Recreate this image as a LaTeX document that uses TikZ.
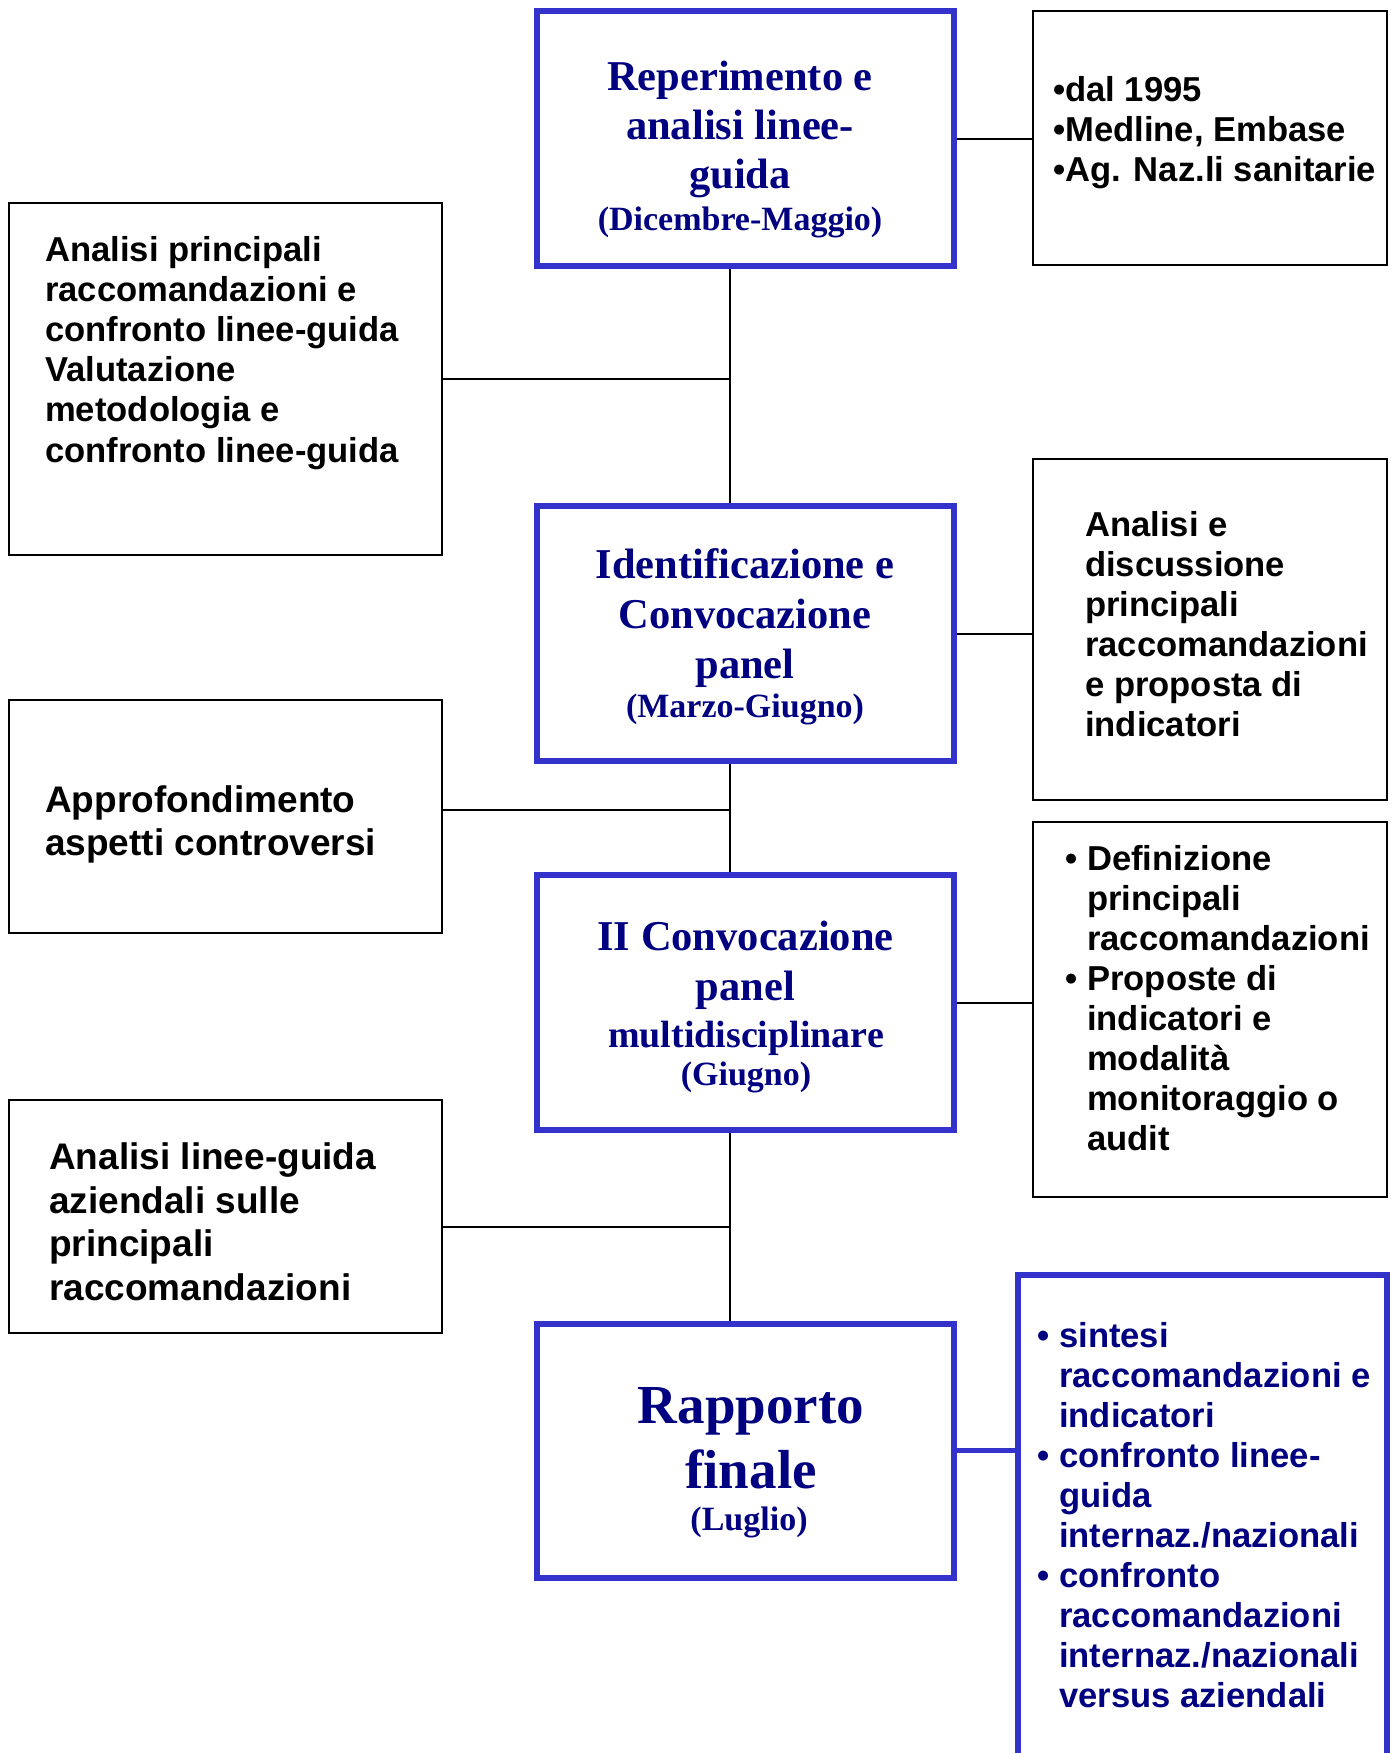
\documentclass[tikz,border=0pt]{standalone}
\usepackage{fontspec}
\setmainfont{Liberation Serif}
\setsansfont{Liberation Sans}
\definecolor{boxblue}{RGB}{51,51,204}
\definecolor{navytext}{RGB}{0,0,128}
\begin{document}
\begin{tikzpicture}[x=1pt,y=-1pt,
  stagebox/.style={draw=boxblue, line width=6pt, minimum width=417pt, minimum height=255pt, inner sep=0pt},
  notebox/.style={draw=black, line width=2pt, inner sep=0pt},
  bluenote/.style={draw=boxblue, line width=6pt, inner sep=0pt},
  conn/.style={draw=black, line width=2pt},
  blueconn/.style={draw=boxblue, line width=5pt},
  sanstext/.style={align=left, inner sep=0pt, anchor=base west, text=black},
  serift/.style={align=center, inner sep=0pt, anchor=base, text=navytext},
]
\useasboundingbox (0,0) rectangle (1396,1753);
\clip (0,0) rectangle (1396,1753);
\fill[white] (0,0) rectangle (1396,1753);

% central stage boxes
\node[stagebox] (s1) at (745.5,138.5) {};
\node[stagebox] (s2) at (745.5,633.5) {};
\node[stagebox] (s3) at (745.5,1002.5) {};
\node[stagebox, minimum height=254pt] (s4) at (745.5,1450.5) {};

% left boxes
\node[notebox, minimum width=433pt, minimum height=352pt] (l1) at (225.5,379) {};
\node[notebox, minimum width=433pt, minimum height=233pt] (l2) at (225.5,816.5) {};
\node[notebox, minimum width=433pt, minimum height=233pt] (l3) at (225.5,1216.5) {};

% right boxes
\node[notebox, minimum width=354pt, minimum height=254pt] (r1) at (1210,138) {};
\node[notebox, minimum width=354pt, minimum height=341pt] (r2) at (1210,629.5) {};
\node[notebox, minimum width=354pt, minimum height=375pt] (r3) at (1210,1009.5) {};
\node[bluenote, minimum width=369pt, minimum height=525pt] (r4) at (1202.5,1537.5) {};

% connectors
\coordinate (vx) at (730,0);
\draw[conn] (s1.south -| vx) -- (s2.north -| vx);
\draw[conn] (s2.south -| vx) -- (s3.north -| vx);
\draw[conn] (s3.south -| vx) -- (s4.north -| vx);
\coordinate (j1) at (730,379);
\coordinate (j2) at (730,810);
\coordinate (j3) at (730,1227);
\draw[conn] (j1 -| l1.east) -- (j1);
\draw[conn] (j2 -| l2.east) -- (j2);
\draw[conn] (j3 -| l3.east) -- (j3);
\draw[conn] (s1.east) -- (s1.east -| r1.west);
\draw[conn] (s2.east) -- (s2.east -| r2.west);
\draw[conn] (s3.east) -- (s3.east -| r3.west);
\draw[blueconn] (s4.east) -- (s4.east -| r4.west);

% central texts (anchor = baseline of last line)
\node[serift, font={\rmfamily\bfseries\fontsize{42.5}{49}\selectfont}] (s1a) at (740,188) {Reperimento e\\analisi linee-\\guida};
\node[serift, font={\rmfamily\bfseries\fontsize{34}{40}\selectfont}] (s1b) at (740,230) {(Dicembre-Maggio)};
\node[serift, font={\rmfamily\bfseries\fontsize{42.5}{50}\selectfont}] (s2a) at (745,678) {Identificazione e\\Convocazione\\panel};
\node[serift, font={\rmfamily\bfseries\fontsize{34}{40}\selectfont}] (s2b) at (745,717) {(Marzo-Giugno)};
\node[serift, font={\rmfamily\bfseries\fontsize{42.5}{50}\selectfont}] (s3a) at (745.5,1000) {II Convocazione\\panel};
\node[serift, font={\rmfamily\bfseries\fontsize{38}{44}\selectfont}] (s3b) at (746,1047) {multidisciplinare};
\node[serift, font={\rmfamily\bfseries\fontsize{34}{40}\selectfont}] (s3c) at (746,1085) {(Giugno)};
\node[serift, font={\rmfamily\bfseries\fontsize{55}{65}\selectfont}] (s4a) at (751,1488) {Rapporto\\finale};
\node[serift, font={\rmfamily\bfseries\fontsize{34}{40}\selectfont}] (s4b) at (749,1530) {(Luglio)};

% left texts
\node[sanstext, font={\sffamily\bfseries\fontsize{34.6}{40.2}\selectfont}] (l1t) at (45,462)
 {Analisi principali\\raccomandazioni e\\confronto linee-guida\\Valutazione\\metodologia e\\confronto linee-guida};
\node[sanstext, font={\sffamily\bfseries\fontsize{37}{43}\selectfont}] (l2t) at (45,855)
 {Approfondimento\\aspetti controversi};
\node[sanstext, font={\sffamily\bfseries\fontsize{37}{43.4}\selectfont}] (l3t) at (49,1300)
 {Analisi linee-guida\\aziendali sulle\\principali\\raccomandazioni};

% right texts
\node[sanstext, font={\sffamily\bfseries\fontsize{34.6}{40}\selectfont}] (r1t) at (1053,181.5)
 {•dal 1995\\•Medline, Embase\\•Ag. Naz.li sanitarie};
\node[sanstext, font={\sffamily\bfseries\fontsize{34.6}{40}\selectfont}] (r2t) at (1085,736)
 {Analisi e\\discussione\\principali\\raccomandazioni\\e proposta di\\indicatori};
\node[sanstext, font={\sffamily\bfseries\fontsize{34.6}{40}\selectfont}] (r3t) at (1065,1150)
 {\makebox[22pt][l]{•}Definizione\\\hspace*{22pt}principali\\\hspace*{22pt}raccomandazioni\\\makebox[22pt][l]{•}Proposte di\\\hspace*{22pt}indicatori e\\\hspace*{22pt}modalità\\\hspace*{22pt}monitoraggio o\\\hspace*{22pt}audit};
\node[sanstext, text=navytext, font={\sffamily\bfseries\fontsize{34.6}{40}\selectfont}] (r4t) at (1037,1707)
 {\makebox[22pt][l]{•}sintesi\\\hspace*{22pt}raccomandazioni e\\\hspace*{22pt}indicatori\\\makebox[22pt][l]{•}confronto linee-\\\hspace*{22pt}guida\\\hspace*{22pt}internaz./nazionali\\\makebox[22pt][l]{•}confronto\\\hspace*{22pt}raccomandazioni\\\hspace*{22pt}internaz./nazionali\\\hspace*{22pt}versus aziendali};
\end{tikzpicture}
\end{document}
